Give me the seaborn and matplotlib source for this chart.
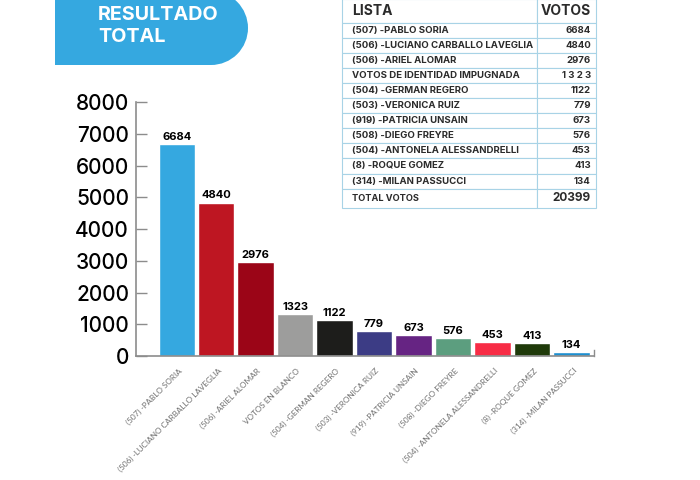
import matplotlib
matplotlib.use("Agg")
import matplotlib.pyplot as plt
import matplotlib.patches as mpatches
from matplotlib.transforms import ScaledTranslation
import pandas as pd
import seaborn as sns

# ---------------------------
# Datos
# ---------------------------
listas = ["(507) -PABLO SORIA", "(506) -LUCIANO CARBALLO LAVEGLIA", "(506) -ARIEL ALOMAR",
          "VOTOS EN BLANCO", "(504) -GERMAN REGERO", "(503) -VERONICA RUIZ",
          "(919) -PATRICIA UNSAIN", "(508) -DIEGO FREYRE", "(504) -ANTONELA ALESSANDRELLI",
          "(8) -ROQUE GOMEZ", "(314) -MILAN PASSUCCI"]
votos = [6684, 4840, 2976, 1323, 1122, 779, 673, 576, 453, 413, 134]
colores = ["#35a8e0", "#be1622", "#9b0517", "#9d9d9c", "#1d1d1b", "#3c3c85",
           "#662483", "#5c9e7f", "#f72c45", "#1f3a0a", "#1d8fd0"]
y_ticks = [0, 1000, 2000, 3000, 4000, 5000, 6000, 7000, 8000]

tabla_listas = ["(507) -PABLO SORIA", "(506) -LUCIANO CARBALLO LAVEGLIA", "(506) -ARIEL ALOMAR",
                "VOTOS DE IDENTIDAD IMPUGNADA", "(504) -GERMAN REGERO", "(503) -VERONICA RUIZ",
                "(919) -PATRICIA UNSAIN", "(508) -DIEGO FREYRE", "(504) -ANTONELA ALESSANDRELLI",
                "(8) -ROQUE GOMEZ", "(314) -MILAN PASSUCCI"]
tabla_votos = ["6684", "4840", "2976", "1 3 2 3", "1122", "779", "673", "576", "453", "413", "134"]
total_votos = "20399"

W, H = 700, 480
AZUL = "#35a8e0"
GRIS = "#8c8c8c"

sns.set_theme(style="white")
plt.rcParams["font.family"] = ["Inter", "DejaVu Sans"]

fig = plt.figure(figsize=(7, 4.8), dpi=100)

# ---------------------------
# Grafico de barras
# ---------------------------
ax = fig.add_axes([136 / W, 1 - 356 / H, (594 - 136) / W, (356 - 102.3) / H])
df = pd.DataFrame({"lista": listas, "votos": votos})
sns.barplot(data=df, x="lista", y="votos", hue="lista", palette=colores, dodge=False,
            legend=False, width=0.92, saturation=1, ax=ax)
ax.set_xlim(-1.03, 10.57)
ax.set_ylim(0, 8000)
ax.set_xlabel("")
ax.set_ylabel("")
ax.set_yticks(y_ticks)
ax.set_yticklabels([str(v) for v in y_ticks], fontsize=15, color="black", fontweight="medium")
ax.tick_params(axis="y", direction="in", length=8, width=1, color=GRIS, pad=5, left=True)
ax.tick_params(axis="x", length=0, pad=8)
ax.set_xticks(range(len(listas)))
ax.set_xticklabels(listas, rotation=45, ha="right", rotation_mode="anchor",
                   fontsize=5.9, color="#6f6f6f", family=["Lato", "DejaVu Sans"])
# las etiquetas terminan un poco a la derecha del centro de la barra
desplazamiento = ScaledTranslation(1 / 72, 0, fig.dpi_scale_trans)
for etiqueta in ax.get_xticklabels():
    etiqueta.set_transform(etiqueta.get_transform() + desplazamiento)

ax.spines["top"].set_visible(False)
for s in ["left", "bottom"]:
    ax.spines[s].set_color(GRIS)
    ax.spines[s].set_linewidth(1.2)
ax.spines["right"].set_bounds(0, 180)
ax.spines["right"].set_color(GRIS)
ax.spines["right"].set_linewidth(1)

for i, v in enumerate(votos):
    ax.annotate(str(v), (i, v), xytext=(0, 1.5), textcoords="offset points",
                ha="center", va="bottom", fontsize=8, fontweight="bold", color="black")

# ---------------------------
# Banner del titulo
# ---------------------------
fondo = fig.add_axes([0, 0, 1, 1], zorder=-1)
fondo.set_xlim(0, W)
fondo.set_ylim(H, 0)
fondo.axis("off")
fondo.add_patch(mpatches.Rectangle((55, -2), 156, 67, facecolor=AZUL, edgecolor="none"))
fondo.add_patch(mpatches.Circle((211, 28), 37, facecolor=AZUL, edgecolor="none"))
fondo.text(98, 15, "RESULTADO", color="white", fontsize=14.2, fontweight="bold", va="center")
fondo.text(98, 37, "TOTAL", color="white", fontsize=14.2, fontweight="bold", va="center")

# ---------------------------
# Tabla
# ---------------------------
ax_t = fig.add_axes([342 / W, 1 - 208 / H, 253.5 / W, 209 / H])
ax_t.axis("off")
filas = [["LISTA", "VOTOS"]] + [[a, b] for a, b in zip(tabla_listas, tabla_votos)] + [["TOTAL VOTOS", total_votos]]
tabla = ax_t.table(cellText=filas, colWidths=[194.5, 59], bbox=[0, 0, 1, 1])
tabla.auto_set_font_size(False)
alturas = [23.7] + [15.0] * 11 + [19.3]
for (f, c), celda in tabla.get_celld().items():
    celda.set_height(alturas[f])
    celda.set_edgecolor("#a8d3e6")
    celda.set_linewidth(0.8)
    txt = celda.get_text()
    txt.set_color("#2b2b2b")
    txt.set_fontweight("bold")
    txt.set_fontsize(6.9)
    if c == 1:
        celda.set_text_props(ha="right")
        celda.PAD = 0.08
    else:
        celda.set_text_props(ha="left")
        celda.PAD = 0.05
    if f == 0:
        txt.set_fontsize(10)
    if f == len(filas) - 1:
        txt.set_fontsize(8.5 if c == 1 else 6.6)

fig.savefig("out.png", dpi=100)
